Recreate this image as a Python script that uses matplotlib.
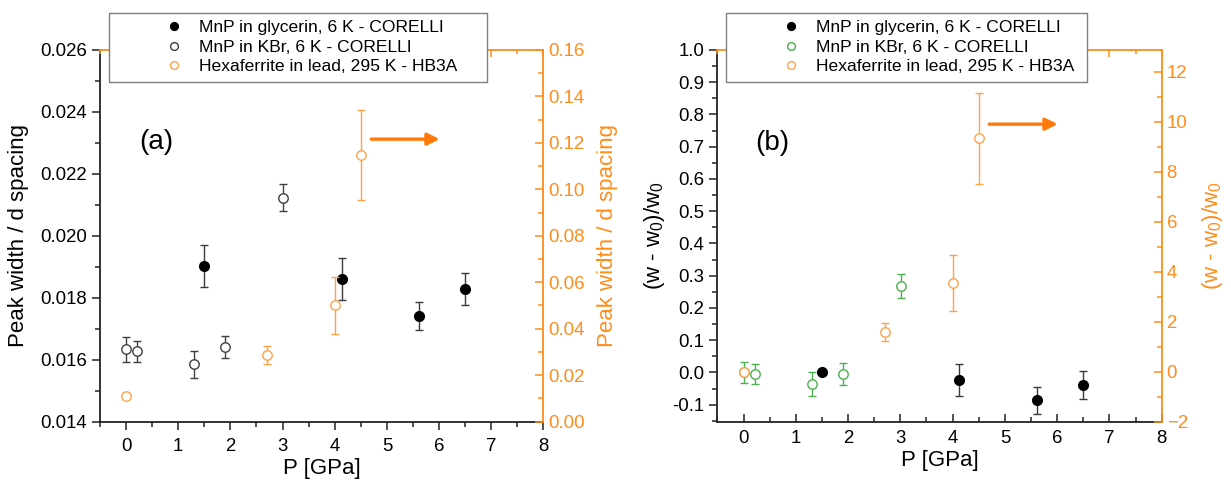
import matplotlib
matplotlib.use("Agg")
import matplotlib.pyplot as plt
from matplotlib.lines import Line2D
from matplotlib.ticker import MultipleLocator, FormatStrFormatter

plt.rcParams['font.family'] = ['Liberation Sans', 'DejaVu Sans']
plt.rcParams['mathtext.fontset'] = 'custom'
plt.rcParams['mathtext.rm'] = 'Liberation Sans'
plt.rcParams['mathtext.it'] = 'Liberation Sans'

# ---------------- data: panel (a) ----------------
P_gly = [1.5, 4.13, 5.61, 6.5]
w_gly = [0.01902, 0.01861, 0.01741, 0.01828]
e_gly = [0.00067, 0.00067, 0.00044, 0.00052]

P_kbr = [0.0, 0.21, 1.31, 1.90, 3.01]
w_kbr = [0.01633, 0.01627, 0.01585, 0.01641, 0.02123]
e_kbr = [0.00041, 0.00034, 0.00044, 0.00036, 0.00043]

P_hex = [0.0, 2.71, 4.0, 4.51]
w_hex = [0.0109, 0.0286, 0.050, 0.1148]
e_hex = [0.0012, 0.0040, 0.0123, 0.0192]

# ---------------- data: panel (b) ----------------
r_gly = [0.0, -0.0227, -0.0865, -0.0381]
re_gly = [0.004, 0.049, 0.042, 0.044]

r_kbr = [0.0, -0.005, -0.036, -0.005, 0.268]
re_kbr = [0.032, 0.032, 0.036, 0.033, 0.037]

r_hex = [0.0, 1.58, 3.55, 9.34]
re_hex = [0.05, 0.36, 1.13, 1.83]

labels_a = ["MnP in glycerin, 6 K - CORELLI", "MnP in KBr, 6 K - CORELLI",
            "Hexaferrite in lead, 295 K - HB3A"]

ORANGE = '#FF8C1A'
ORANGE_PT = '#FFA24A'
ARROW = '#FF7A0A'
GREEN = '#4CAF50'
KBR = '#404040'
BLK_ERR = '#3a3a3a'

fig = plt.figure(figsize=(12.31, 4.83), dpi=100)
ax_a = fig.add_axes([0.0812, 0.1273, 0.3603, 0.7692])
ax_b = fig.add_axes([0.5828, 0.1273, 0.3609, 0.7692])

TICK_FS = 13.4
LABEL_FS = 16


def style(ax, ax2, bottom_dir):
    ax.set_xlim(-0.5, 8)
    ax.xaxis.set_major_locator(MultipleLocator(1))
    ax.xaxis.set_minor_locator(MultipleLocator(0.5))
    ax.spines['top'].set_visible(False)
    ax.spines['right'].set_visible(False)
    for s in ['left', 'bottom']:
        ax.spines[s].set_color('#222222')
        ax.spines[s].set_linewidth(1.3)
    ax.tick_params(axis='x', which='major', direction=bottom_dir, length=6,
                   width=1.1, labelsize=TICK_FS, color='#222222', pad=6)
    ax.tick_params(axis='x', which='minor', direction=bottom_dir, length=3.5,
                   width=1.1, color='#222222')
    ax.tick_params(axis='y', which='major', direction='out', length=6,
                   width=1.1, labelsize=TICK_FS, color='#222222')
    ax.tick_params(axis='y', which='minor', direction='out', length=3.5,
                   width=1.1, color='#222222')
    ax.set_xlabel('P [GPa]', fontsize=LABEL_FS, labelpad=2)

    ax2.spines['left'].set_visible(False)
    ax2.spines['bottom'].set_visible(False)
    for s in ['top', 'right']:
        ax2.spines[s].set_color(ORANGE)
        ax2.spines[s].set_linewidth(1.3)
    ax2.xaxis.set_visible(True)
    ax2.tick_params(axis='x', which='both', top=True, bottom=False,
                    labeltop=False, labelbottom=False, direction='in',
                    color=ORANGE, width=1.1)
    ax2.tick_params(axis='x', which='major', length=5)
    ax2.tick_params(axis='x', which='minor', length=3)
    ax2.tick_params(axis='y', which='major', direction='in', length=6,
                    width=1.1, labelsize=TICK_FS, color=ORANGE,
                    labelcolor=ORANGE)
    ax2.tick_params(axis='y', which='minor', direction='in', length=3.5,
                    width=1.1, color=ORANGE)


eb_kw = dict(capsize=2.6, elinewidth=1.0, capthick=1.0, linestyle='none')

# ---------------- panel (a) ----------------
ax2_a = ax_a.twinx()
ax_a.errorbar(P_gly, w_gly, yerr=e_gly, fmt='o', ms=7.0, mfc='black',
              mec='black', ecolor=BLK_ERR, **eb_kw, zorder=3)
ax_a.errorbar(P_kbr, w_kbr, yerr=e_kbr, fmt='o', ms=6.8, mfc='white',
              mec=KBR, mew=1.0, ecolor=KBR, **eb_kw, zorder=3)
ax2_a.errorbar(P_hex, w_hex, yerr=e_hex, fmt='o', ms=6.8, mfc='white',
               mec=ORANGE_PT, mew=1.0, ecolor=ORANGE_PT, **eb_kw, zorder=3)

ax_a.set_ylim(0.014, 0.026)
ax_a.yaxis.set_major_locator(MultipleLocator(0.002))
ax_a.yaxis.set_minor_locator(MultipleLocator(0.001))
ax_a.yaxis.set_major_formatter(FormatStrFormatter('%.3f'))
ax2_a.set_ylim(0.0, 0.16)
ax2_a.yaxis.set_major_locator(MultipleLocator(0.02))
ax2_a.yaxis.set_minor_locator(MultipleLocator(0.01))
ax2_a.yaxis.set_major_formatter(FormatStrFormatter('%.2f'))
style(ax_a, ax2_a, 'out')
ax_a.set_ylabel('Peak width / d spacing', fontsize=LABEL_FS, labelpad=8)
ax2_a.set_ylabel('Peak width / d spacing', fontsize=LABEL_FS, color=ORANGE,
                 labelpad=9)
ax_a.annotate('', xy=(6.01, 0.02312), xytext=(4.70, 0.02312),
              arrowprops=dict(arrowstyle='-|>', color=ARROW, lw=2.4,
                              mutation_scale=18, shrinkA=0, shrinkB=0))
ax_a.text(0.58, 0.02303, '(a)', fontsize=20, ha='center', va='center')

# ---------------- panel (b) ----------------
ax2_b = ax_b.twinx()
ax_b.errorbar(P_gly, r_gly, yerr=re_gly, fmt='o', ms=7.0, mfc='black',
              mec='black', ecolor=BLK_ERR, **eb_kw, zorder=3)
ax_b.errorbar(P_kbr, r_kbr, yerr=re_kbr, fmt='o', ms=6.8, mfc='white',
              mec=GREEN, mew=1.0, ecolor=GREEN, **eb_kw, zorder=3)
ax2_b.errorbar(P_hex, r_hex, yerr=re_hex, fmt='o', ms=6.8, mfc='white',
               mec=ORANGE_PT, mew=1.0, ecolor=ORANGE_PT, **eb_kw, zorder=3)

ax_b.set_ylim(-0.152, 1.0)
ax_b.yaxis.set_major_locator(MultipleLocator(0.1))
ax_b.yaxis.set_minor_locator(MultipleLocator(0.05))
ax_b.yaxis.set_major_formatter(FormatStrFormatter('%.1f'))
ax2_b.set_ylim(-2.0, 12.88)
ax2_b.yaxis.set_major_locator(MultipleLocator(2))
ax2_b.yaxis.set_minor_locator(MultipleLocator(1))
style(ax_b, ax2_b, 'in')
ax_b.set_ylabel('(w - w$_0$)/w$_0$', fontsize=LABEL_FS, labelpad=4)
ax2_b.set_ylabel('(w - w$_0$)/w$_0$', fontsize=LABEL_FS, color=ORANGE,
                 labelpad=9)
ax_b.annotate('', xy=(6.01, 0.770), xytext=(4.70, 0.770),
              arrowprops=dict(arrowstyle='-|>', color=ARROW, lw=2.4,
                              mutation_scale=18, shrinkA=0, shrinkB=0))
ax_b.text(0.55, 0.711, '(b)', fontsize=20, ha='center', va='center')


# ---------------- legends ----------------
def make_legend(ax2, kbr_color, x0, width):
    handles = [
        Line2D([], [], marker='o', ls='none', ms=5.6, mfc='black', mec='black'),
        Line2D([], [], marker='o', ls='none', ms=5.6, mfc='white',
               mec=kbr_color, mew=1.0),
        Line2D([], [], marker='o', ls='none', ms=5.6, mfc='white',
               mec=ORANGE_PT, mew=1.0),
    ]
    leg = ax2.legend(handles, labels_a, loc='upper left',
                     bbox_to_anchor=(x0, 1.100, width, 0.0), mode='expand',
                     borderaxespad=0, fontsize=12.6, frameon=True,
                     fancybox=False, edgecolor='#7f7f7f', framealpha=1,
                     handlelength=6.63, handletextpad=-1.89, labelspacing=0.24,
                     borderpad=0.42, numpoints=1)
    leg.get_frame().set_linewidth(1.0)
    leg.set_zorder(10)


make_legend(ax2_a, KBR, 0.0196, 0.853)
make_legend(ax2_b, GREEN, 0.0194, 0.812)

fig.savefig('out.png', dpi=100)
